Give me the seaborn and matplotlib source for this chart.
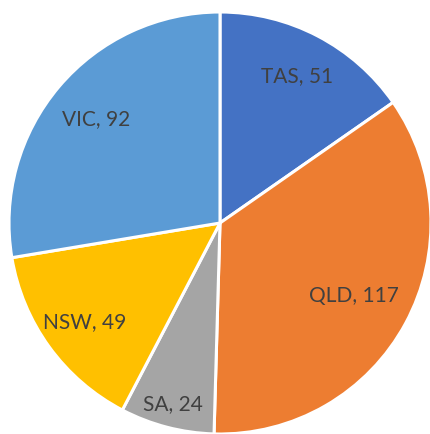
import numpy as np
import matplotlib
matplotlib.use("Agg")
import matplotlib.pyplot as plt
import seaborn as sns

states = ["TAS", "QLD", "SA", "NSW", "VIC"]
counts = [51, 117, 24, 49, 92]
colors = ["#4472C4", "#ED7D31", "#A5A5A5", "#FFC000", "#5B9BD5"]

sns.set_theme(style="white")
plt.rcParams['font.family'] = ['Lato', 'DejaVu Sans']

fig = plt.figure(figsize=(4.31, 4.35), dpi=100)
ax = fig.add_axes([0, 0, 1, 1])

wedges, _ = ax.pie(counts, colors=colors, startangle=90, counterclock=False,
                   radius=1, wedgeprops=dict(edgecolor="white", linewidth=2.2))

# label distance from centre (fraction of radius), like Excel best fit
dist = [0.79, 0.72, 0.88, 0.79, 0.77]
for w, s, c, d in zip(wedges, states, counts, dist):
    ang = np.deg2rad((w.theta1 + w.theta2) / 2)
    ax.text(d * np.cos(ang), d * np.sin(ang), f"{s}, {c}", ha="center", va="center",
            fontsize=15, color="#404040")

r = 211
cx, cy = 220, 224
ax.set_xlim(-cx / r, (431 - cx) / r)
ax.set_ylim(-(435 - cy) / r, cy / r)
ax.set_aspect("equal")
ax.axis("off")

fig.savefig("out.png", dpi=100, facecolor="white")
